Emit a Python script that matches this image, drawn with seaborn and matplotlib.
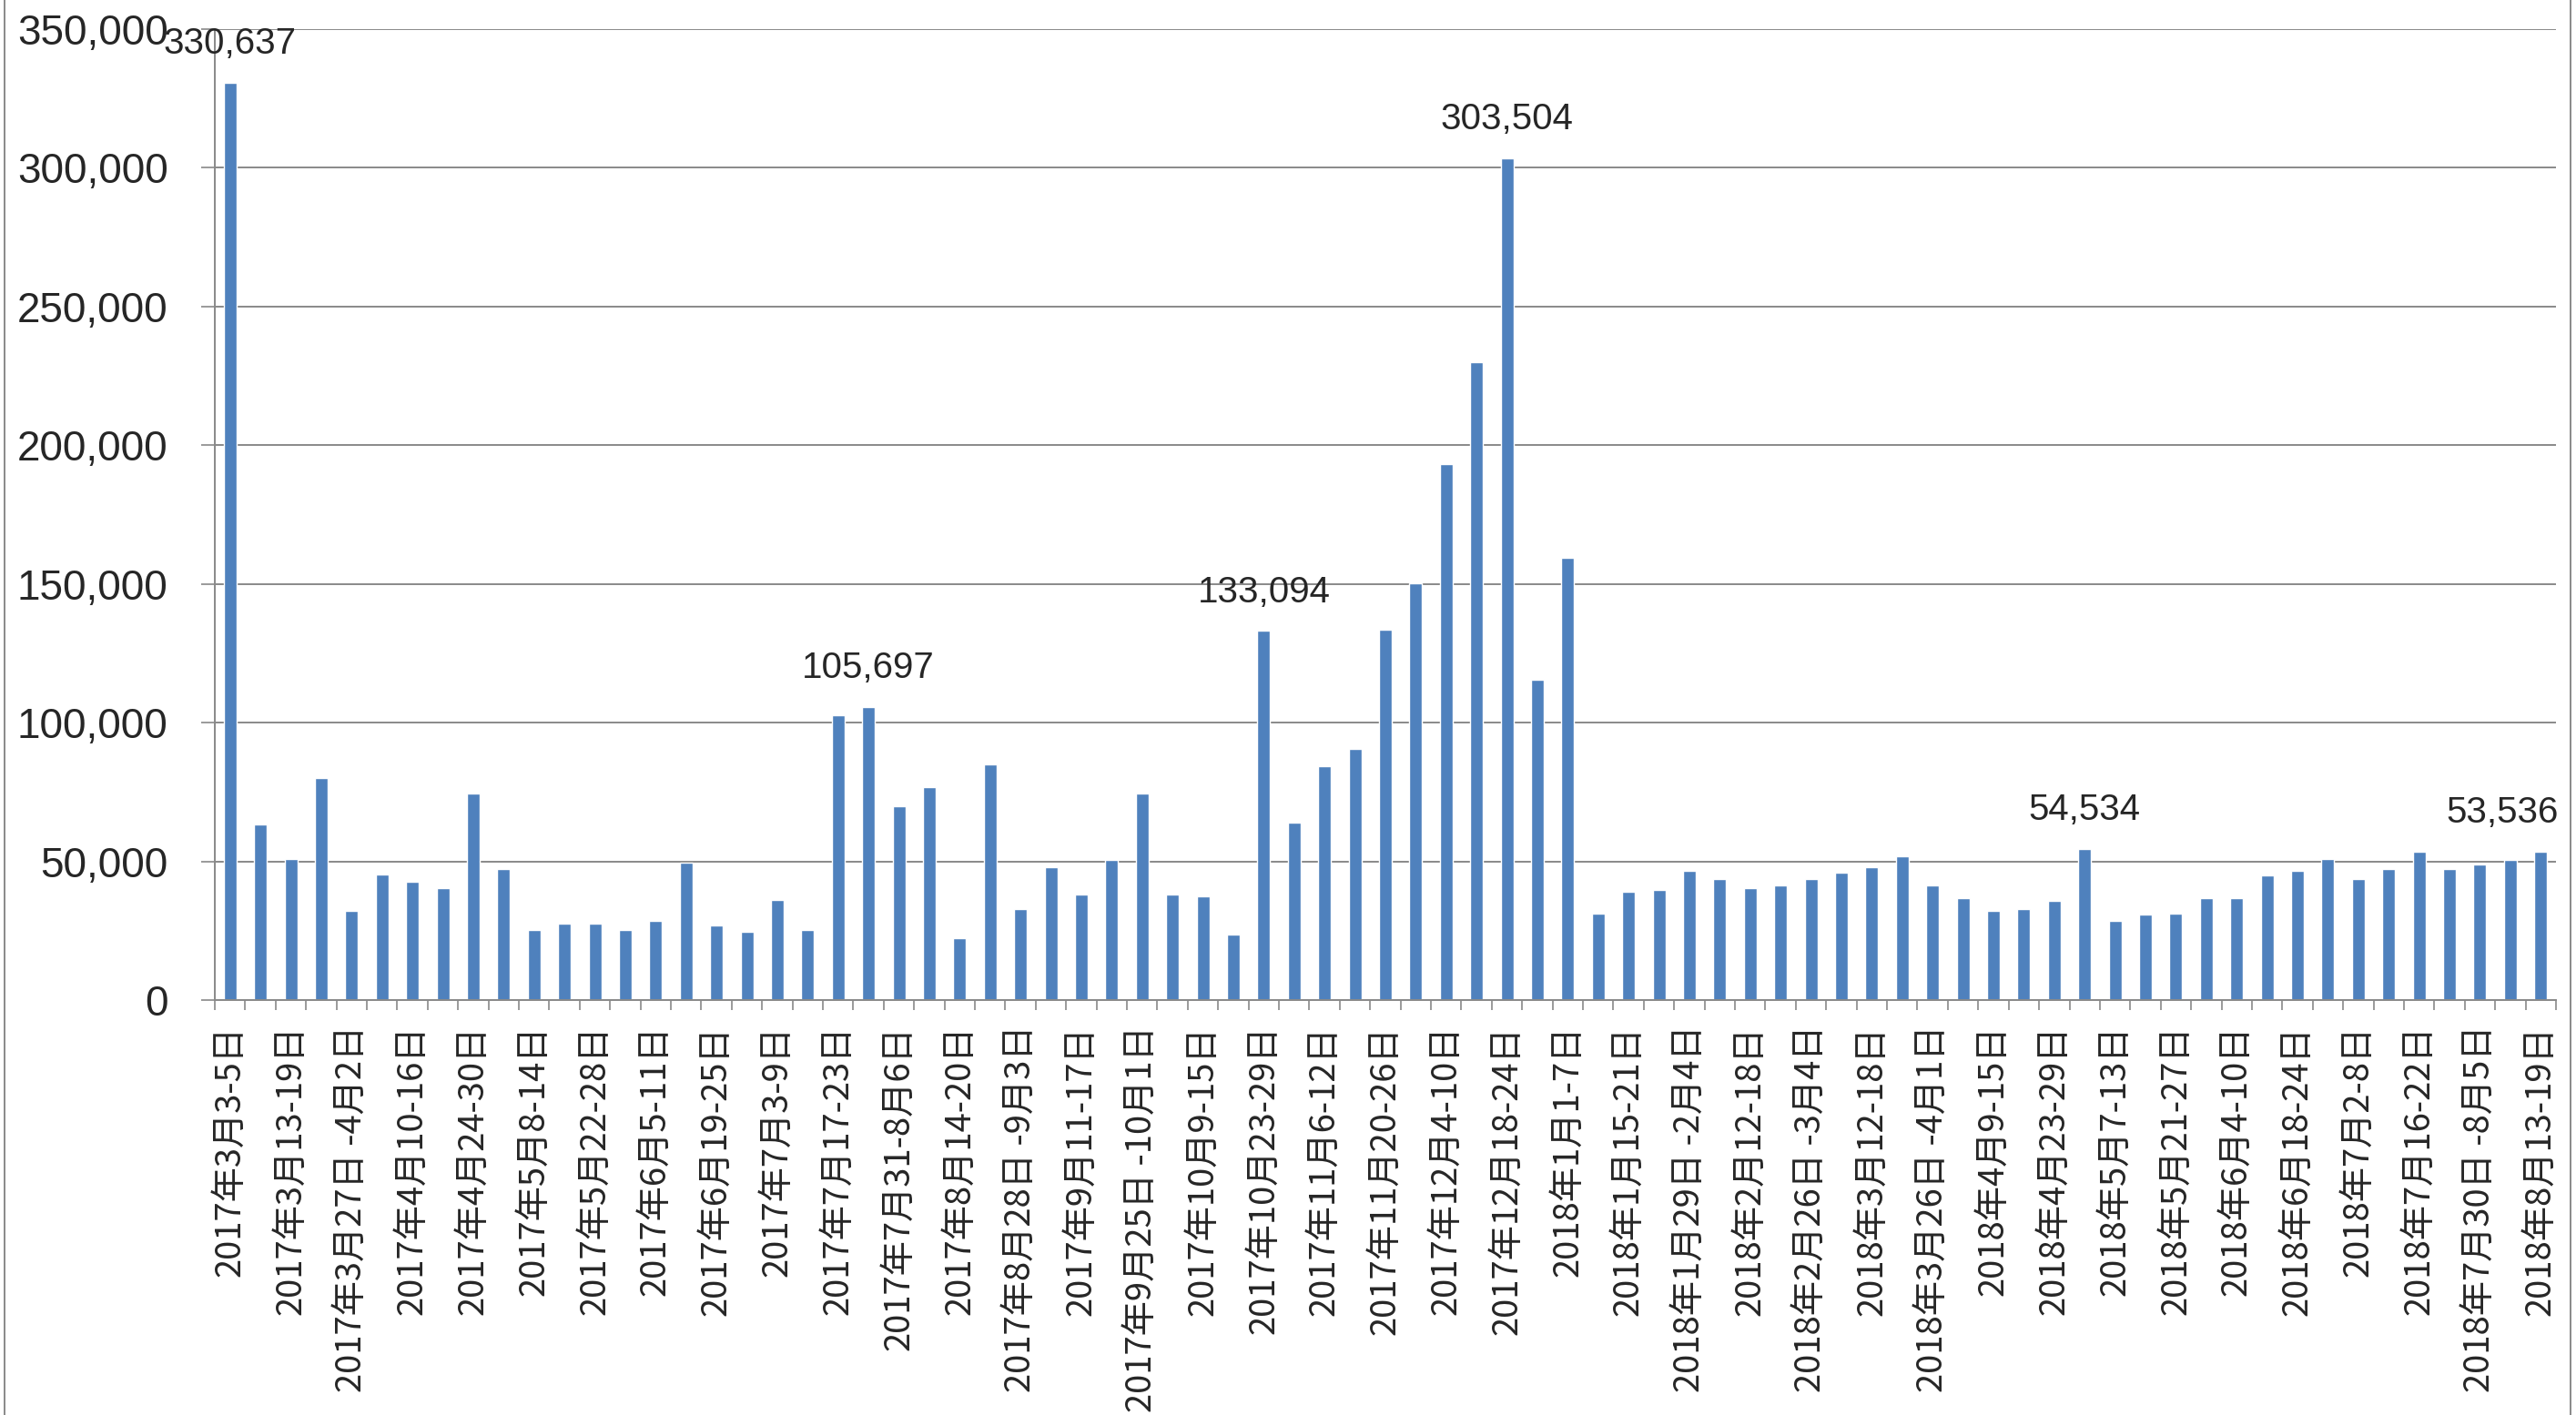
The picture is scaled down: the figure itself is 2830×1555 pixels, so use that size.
import numpy as np
import matplotlib
matplotlib.use('Agg')
import matplotlib.pyplot as plt
import seaborn as sns
from matplotlib.lines import Line2D
from matplotlib.ticker import FuncFormatter, FixedLocator

# weekly values, 2017-03 to 2018-08 (77 weeks)
values = [330637, 63200, 51000, 79900, 32100, 45200, 42700, 40400, 74600, 47300,
          25400, 27700, 27700, 25400, 28500, 49700, 26900, 24600, 36000, 25400,
          102700, 105697, 70000, 76800, 22300, 85100, 32900, 48000, 38200, 50400,
          74600, 38200, 37400, 23800, 133094, 64000, 84400, 90500, 133400, 150200,
          193300, 229900, 303504, 115400, 159300, 31200, 39000, 39800, 46500, 43500,
          40500, 41200, 43500, 45800, 48000, 51900, 41200, 36600, 32100, 32900,
          35900, 54534, 28400, 30700, 31300, 36600, 36600, 45100, 46500, 51000,
          43500, 47300, 53400, 47300, 48800, 50400, 53536]

# only every other week is labelled on the axis
tick_labels = ["2017年3月3-5日", "2017年3月13-19日", "2017年3月27日 -4月2日", "2017年4月10-16日",
               "2017年4月24-30日", "2017年5月8-14日", "2017年5月22-28日", "2017年6月5-11日",
               "2017年6月19-25日", "2017年7月3-9日", "2017年7月17-23日", "2017年7月31-8月6日",
               "2017年8月14-20日", "2017年8月28日 -9月3日", "2017年9月11-17日", "2017年9月25日 -10月1日",
               "2017年10月9-15日", "2017年10月23-29日", "2017年11月6-12日", "2017年11月20-26日",
               "2017年12月4-10日", "2017年12月18-24日", "2018年1月1-7日", "2018年1月15-21日",
               "2018年1月29日 -2月4日", "2018年2月12-18日", "2018年2月26日 -3月4日", "2018年3月12-18日",
               "2018年3月26日 -4月1日", "2018年4月9-15日", "2018年4月23-29日", "2018年5月7-13日",
               "2018年5月21-27日", "2018年6月4-10日", "2018年6月18-24日", "2018年7月2-8日",
               "2018年7月16-22日", "2018年7月30日 -8月5日", "2018年8月13-19日"]

# bars that carry a value label
labelled = [0, 21, 34, 42, 61, 76]

BLUE = '#4F81BD'
GRAY = '#898989'


def plot_weekly():
    sns.set_style('white')
    plt.rcParams['font.family'] = ['Liberation Sans', 'DejaVu Sans']

    fig, ax = plt.subplots(figsize=(28.3, 15.55), dpi=100)
    fig.subplots_adjust(left=0.0834, right=0.9922, top=0.9794, bottom=0.2932)

    pos = np.arange(len(values))
    sns.barplot(x=pos, y=values, color=BLUE, saturation=1, width=0.42, ax=ax)

    ax.set_xlim(-0.5, len(values) - 0.5)
    ax.set_ylim(0, 350000)
    ax.set_yticks(np.arange(0, 350001, 50000))
    ax.yaxis.set_major_formatter(FuncFormatter(lambda v, p: f'{int(v):,}'))
    ax.yaxis.grid(True, color=GRAY, linewidth=1.4)
    ax.set_axisbelow(True)

    # x axis: labels on every other bar, tick marks between bars
    ax.set_xticks(pos[::2])
    ax.set_xticklabels(tick_labels, rotation=90, va='top', ha='center',
                       family=['Noto Sans CJK JP', 'DejaVu Sans'], fontsize=27.5)
    ax.xaxis.set_minor_locator(FixedLocator(np.arange(-0.5, len(values), 1)))
    ax.tick_params(axis='x', which='major', length=0, pad=20)
    ax.tick_params(axis='x', which='minor', length=8, width=1.2, color=GRAY, bottom=True)
    ax.tick_params(axis='y', length=11, width=1.2, color=GRAY, labelsize=33, pad=26, left=True)
    ax.set_xlabel('')
    ax.set_ylabel('')

    for s in ['top', 'right']:
        ax.spines[s].set_visible(False)
    for s in ['left', 'bottom']:
        ax.spines[s].set_color(GRAY)
        ax.spines[s].set_linewidth(1.4)

    # value labels above selected bars
    for i in labelled:
        dx = -30 if i == len(values) - 1 else 0
        ax.annotate(f'{values[i]:,}', (i, values[i]), xytext=(dx, 17),
                    textcoords='offset points', ha='center', va='bottom',
                    fontsize=29, annotation_clip=False)

    # chart border
    fig.add_artist(Line2D([0.0018, 0.0018], [0, 1], color=GRAY, linewidth=1.4))
    fig.add_artist(Line2D([0.9979, 0.9979], [0, 1], color=GRAY, linewidth=1.4))

    plt.savefig('out.png', dpi=100)


if __name__ == "__main__":
    plot_weekly()
